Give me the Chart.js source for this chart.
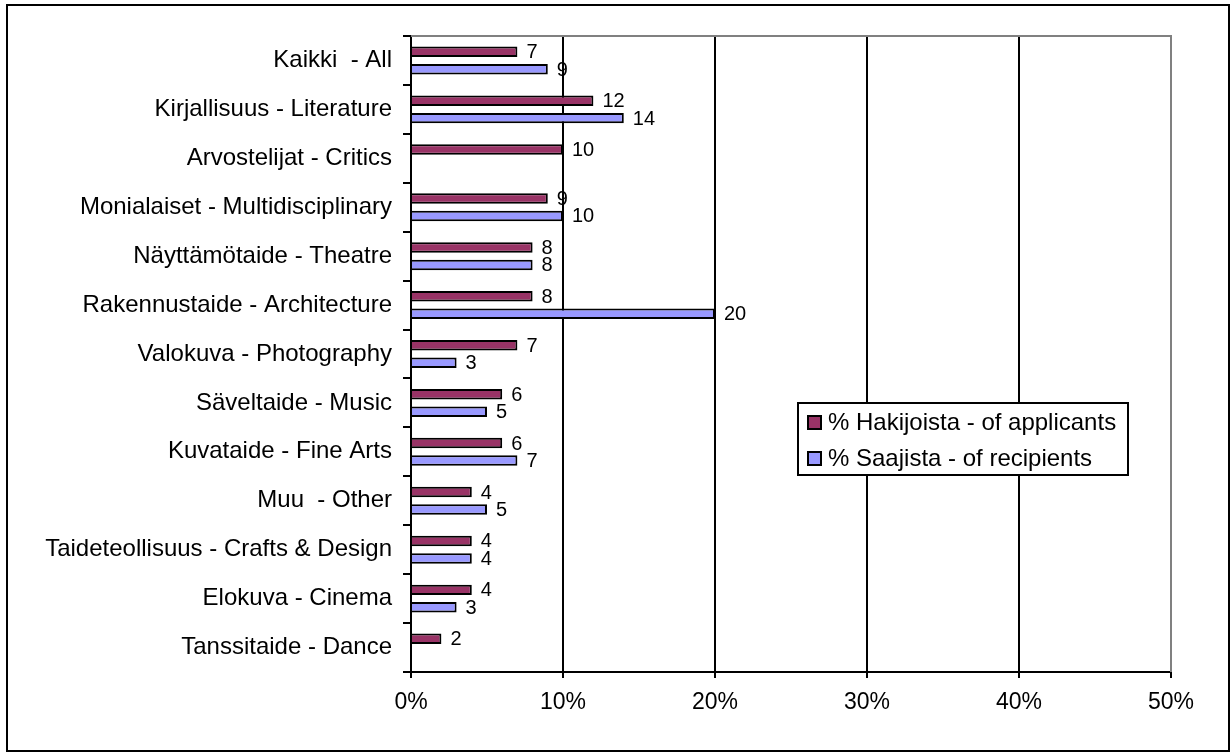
<!DOCTYPE html>
<html>
<head>
<meta charset="utf-8">
<script src="https://cdn.jsdelivr.net/npm/chart.js@4.4.1/dist/chart.umd.min.js"></script>
<style>
  html, body { margin: 0; padding: 0; background: #fff; }
  canvas { display: block; }
</style>
</head>
<body>
<canvas id="c" width="1231" height="756"></canvas>
<script>
const categories = [
  "Kaikki  - All",
  "Kirjallisuus - Literature",
  "Arvostelijat - Critics",
  "Monialaiset - Multidisciplinary",
  "Näyttämötaide - Theatre",
  "Rakennustaide - Architecture",
  "Valokuva - Photography",
  "Säveltaide - Music",
  "Kuvataide - Fine Arts",
  "Muu  - Other",
  "Taideteollisuus - Crafts & Design",
  "Elokuva - Cinema",
  "Tanssitaide - Dance"
];
const applicants = [7, 12, 10, 9, 8, 8, 7, 6, 6, 4, 4, 4, 2];
const recipients = [9, 14, null, 10, 8, 20, 3, 5, 7, 5, 4, 3, null];
const seriesNames = ["% Hakijoista - of applicants", "% Saajista - of recipients"];
const xTicks = [0, 10, 20, 30, 40, 50];

const colApp = "#993366";
const colRec = "#9999FF";

const FONT = "'Liberation Sans', Arial, sans-serif";

const decorPlugin = {
  id: "decor",
  beforeDraw(chart) {
    const ctx = chart.ctx;
    ctx.save();
    ctx.fillStyle = "#fff";
    ctx.fillRect(0, 0, chart.width, chart.height);
    ctx.restore();
  },
  beforeDatasetsDraw(chart) {
    const ctx = chart.ctx;
    const a = chart.chartArea;
    ctx.save();
    ctx.strokeStyle = "#808080";
    ctx.lineWidth = 2;
    ctx.beginPath();
    ctx.moveTo(a.left, a.top);
    ctx.lineTo(a.right, a.top);
    ctx.lineTo(a.right, a.bottom);
    ctx.stroke();
    ctx.restore();
  },
  afterDatasetsDraw(chart) {
    const ctx = chart.ctx;
    ctx.save();
    ctx.font = "20px " + FONT;
    ctx.fillStyle = "#000";
    ctx.textAlign = "left";
    ctx.textBaseline = "middle";
    chart.data.datasets.forEach((ds, di) => {
      const meta = chart.getDatasetMeta(di);
      meta.data.forEach((el, i) => {
        const v = ds.data[i];
        if (v === null || v === undefined) return;
        ctx.fillText(String(v), el.x + 9, el.y + 1);
      });
    });
    ctx.restore();
  },
  afterDraw(chart) {
    const ctx = chart.ctx;
    ctx.save();
    // outer frame
    ctx.strokeStyle = "#000";
    ctx.lineWidth = 2;
    ctx.strokeRect(7, 5, 1222, 746);
    // legend
    const lx = 798, ly = 403, lw = 330, lh = 72;
    ctx.fillStyle = "#fff";
    ctx.fillRect(lx, ly, lw, lh);
    ctx.strokeRect(lx, ly, lw, lh);
    const cols = [colApp, colRec];
    const ys = [422, 458];
    ctx.font = "24px " + FONT;
    ctx.textBaseline = "middle";
    ctx.textAlign = "left";
    for (let i = 0; i < 2; i++) {
      ctx.fillStyle = cols[i];
      ctx.fillRect(808, ys[i] - 6, 13, 13);
      ctx.strokeStyle = "#000";
      ctx.lineWidth = 2;
      ctx.strokeRect(808, ys[i] - 6, 13, 13);
      ctx.fillStyle = "#000";
      ctx.fillText(seriesNames[i], 828, ys[i] + 1);
    }
    ctx.restore();
  }
};

new Chart(document.getElementById("c"), {
  type: "bar",
  data: {
    labels: categories,
    datasets: [
      { label: seriesNames[0], data: applicants, backgroundColor: colApp, borderColor: "#000", borderWidth: 2 },
      { label: seriesNames[1], data: recipients, backgroundColor: colRec, borderColor: "#000", borderWidth: 2 }
    ]
  },
  options: {
    indexAxis: "y",
    responsive: false,
    animation: false,
    devicePixelRatio: 1,
    categoryPercentage: 0.714,
    barPercentage: 0.6,
    layout: { padding: { top: 36, right: 60, left: 0, bottom: 0 } },
    plugins: { legend: { display: false }, tooltip: { enabled: false } },
    scales: {
      x: {
        min: 0, max: 50,
        afterBuildTicks(scale) { scale.ticks = xTicks.map(v => ({ value: v })); },
        afterFit(scale) { scale.height = 84; },
        ticks: { callback: v => v + "%", font: { size: 23, family: FONT }, color: "#000", padding: 11, maxRotation: 0 },
        grid: {
          color: ctx => (ctx.tick && ctx.tick.value === 50) ? "#808080" : "#000",
          lineWidth: 2,
          tickLength: 6,
          tickColor: "#000",
          tickWidth: 2
        },
        border: { display: true, color: "#000", width: 2 }
      },
      y: {
        afterFit(scale) { scale.width = 411; },
        ticks: { font: { size: 24, family: FONT }, color: "#000", padding: 11 },
        grid: { offset: true, drawOnChartArea: false, tickLength: 8, color: "#000", lineWidth: 2 },
        border: { display: true, color: "#000", width: 2 }
      }
    }
  },
  plugins: [decorPlugin]
});
</script>
</body>
</html>
